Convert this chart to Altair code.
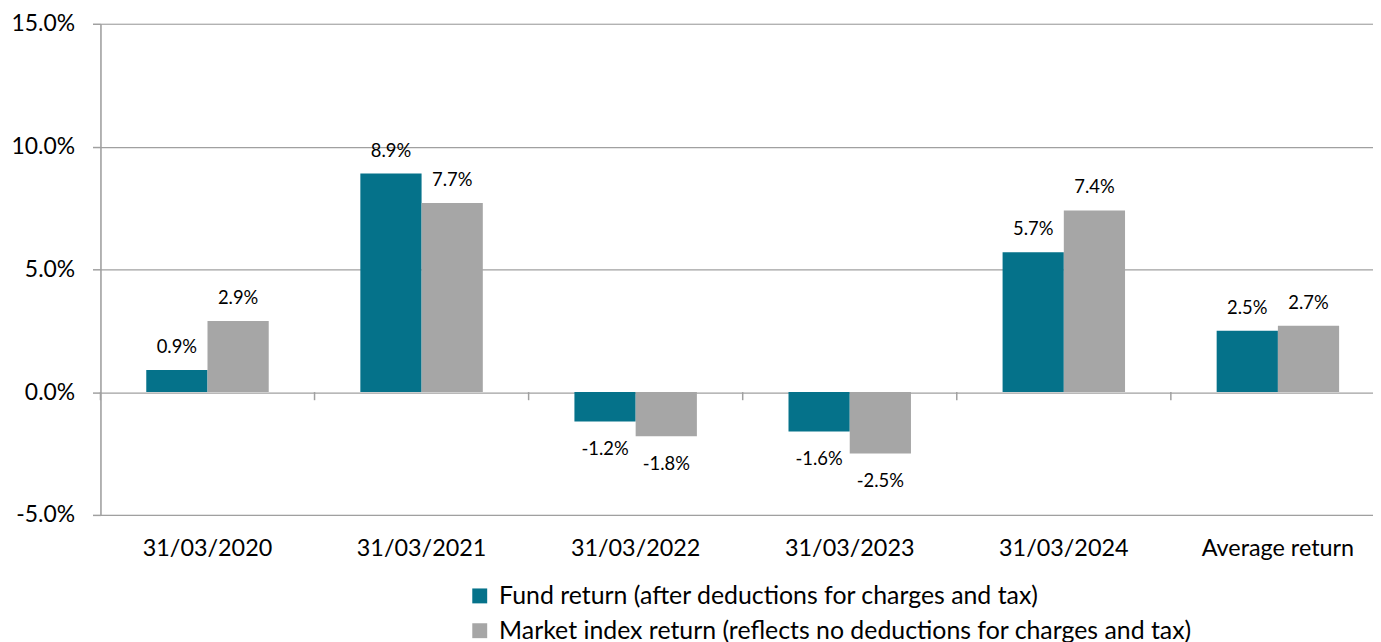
import altair as alt
import pandas as pd

categories = ["31/03/2020", "31/03/2021", "31/03/2022", "31/03/2023", "31/03/2024", "Average return"]
fund_values = [0.9, 8.9, -1.2, -1.6, 5.7, 2.5]
market_values = [2.9, 7.7, -1.8, -2.5, 7.4, 2.7]
series_names = [
    "Fund return (after deductions for charges and tax)",
    "Market index return (reflects no deductions for charges and tax)",
]
series_colors = ["#05728A", "#A6A6A6"]
y_ticks = [-5, 0, 5, 10, 15]

rows = []
for c, f, m in zip(categories, fund_values, market_values):
    rows.append({"cat": c, "series": series_names[0], "value": f})
    rows.append({"cat": c, "series": series_names[1], "value": m})
df = pd.DataFrame(rows)
cat_df = pd.DataFrame({"cat": categories})

FONT = "Lato"
GRID = "#A0A0A0"
PCT = "(datum.value < 0 ? '-' : '') + format(abs(datum.value), '.1f') + '%'"

x_scale = alt.Scale(domain=categories, range=[0, 1292], paddingInner=0.428, paddingOuter=0.214)
y_scale = alt.Scale(domain=[-5, 15], nice=False, zero=False)
xo = alt.XOffset("series:N", sort=series_names, scale=alt.Scale(paddingInner=0, paddingOuter=0))

base = alt.Chart(df)

bars = base.mark_bar().encode(
    x=alt.X("cat:N", sort=categories, scale=x_scale, title=None,
            axis=alt.Axis(labelFont=FONT, labelFontSize=23.5, labelColor="#000000",
                          labelPadding=22, ticks=False, tickSize=0, domain=False,
                          labelAngle=0, grid=False)),
    xOffset=xo,
    y=alt.Y("value:Q", scale=y_scale, title=None,
            axis=alt.Axis(values=y_ticks, grid=True, gridColor=GRID, gridWidth=1.2,
                          domain=True, domainColor=GRID, domainWidth=1.5,
                          ticks=True, tickColor=GRID, tickSize=8, tickWidth=1.5,
                          labelFont=FONT, labelFontSize=23, labelColor="#000000",
                          labelPadding=18,
                          labelExpr=PCT)),
    color=alt.Color("series:N", sort=series_names,
                    scale=alt.Scale(domain=series_names, range=series_colors),
                    legend=alt.Legend(title=None, orient="none", legendX=369, legendY=563,
                                      direction="vertical", symbolType="square",
                                      symbolSize=225, symbolStrokeWidth=0,
                                      labelFont=FONT, labelFontSize=25, labelColor="#000000",
                                      labelOffset=7, rowPadding=9, padding=0,
                                      labelLimit=1000)),
)

boundary_ticks = alt.Chart(cat_df).mark_rule(color=GRID, strokeWidth=1.5, xOffset=-46.08).encode(
    x=alt.X("cat:N", sort=categories, scale=x_scale, bandPosition=0),
    y=alt.datum(0),
    y2=alt.datum(-0.33),
)

labels_pos = base.transform_filter("datum.value >= 0").transform_calculate(
    lbl=PCT
).mark_text(font=FONT, fontSize=18.5, color="#000000", baseline="alphabetic", dy=-17).encode(
    x=alt.X("cat:N", sort=categories, scale=x_scale),
    xOffset=xo,
    y=alt.Y("value:Q", scale=y_scale),
    text="lbl:N",
)

labels_neg = base.transform_filter("datum.value < 0").transform_calculate(
    lbl=PCT
).mark_text(font=FONT, fontSize=18.5, color="#000000", baseline="alphabetic", dy=34).encode(
    x=alt.X("cat:N", sort=categories, scale=x_scale),
    xOffset=xo,
    y=alt.Y("value:Q", scale=y_scale),
    text="lbl:N",
)

chart = alt.layer(bars, boundary_ticks, labels_pos, labels_neg).properties(
    width=1280,
    height=494,
    autosize=alt.AutoSizeParams(type="none"),
    padding={"left": 93, "top": 14, "right": 0, "bottom": 126},
).configure_view(stroke=None).configure(background="#FFFFFF")

chart.save("out.html", embed_options={"renderer": "svg", "actions": False})
